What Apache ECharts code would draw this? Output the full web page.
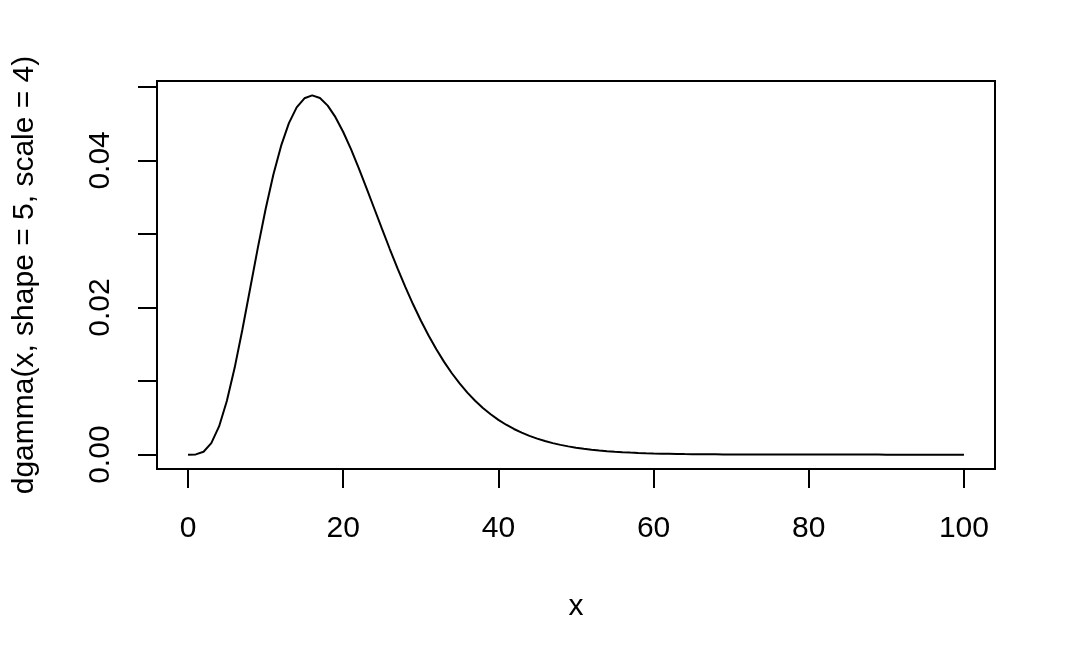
<!DOCTYPE html>
<html>
<head>
<meta charset="utf-8">
<title>dgamma</title>
<script src="https://cdn.jsdelivr.net/npm/echarts@6/dist/echarts.min.js"></script>
<style>
  html, body { margin: 0; padding: 0; background: #fff; }
  #chart { width: 1076px; height: 665px; }
</style>
</head>
<body>
<div id="chart"></div>
<script>
// x 取值 0..100
const xs = []
for (let i = 0; i <= 100; i++) xs.push(i)

// 曲线数值
const ys = [
  0, 0.0000317, 0.000395, 0.001557, 0.003832, 0.007286, 0.011767, 0.016976, 0.022555, 0.028137,
  0.033401, 0.038085, 0.042008, 0.045062, 0.047203, 0.048446, 0.048842, 0.048476, 0.047452, 0.045878,
  0.043866, 0.041526, 0.038955, 0.036242, 0.033463, 0.030684, 0.027955, 0.025320, 0.022806, 0.020438,
  0.018229, 0.016186, 0.014313, 0.012607, 0.011064, 0.009676, 0.008434, 0.007329, 0.006351, 0.005488,
  0.004729, 0.004065, 0.003487, 0.002983, 0.002547, 0.002170, 0.001846, 0.001566, 0.001327, 0.001122,
  0.000948, 0.000799, 0.000672, 0.000565, 0.000474, 0.000398, 0.000333, 0.000278, 0.000232, 0.000194,
  0.000161, 0.000134, 0.000112, 0.000093, 0.000077, 0.000064, 0.000053, 0.000044, 0.000036, 0.000030,
  0.000025, 0.000020, 0.000017, 0.000014, 0.000011, 0.000009, 0.000008, 0.000006, 0.000005, 0.000004,
  0.000003, 0.000003, 0.000002, 0.000002, 0.000002, 0.000001, 0.000001, 0.000001, 0.000001, 0.000001,
  0, 0, 0, 0, 0, 0, 0, 0, 0, 0, 0
]

// 刻度
const xTicks = [0, 20, 40, 60, 80, 100]
const yTicks = [0, 0.01, 0.02, 0.03, 0.04, 0.05]
const yLabels = [0, 0.02, 0.04]

const font = '"Liberation Sans", Arial, Helvetica, sans-serif'

let chart = echarts.init(document.getElementById('chart'))

let options = {
  animation: false,
  backgroundColor: '#fff',
  grid: {
    left: 157,
    top: 81,
    width: 838,
    height: 388,
    show: true,
    borderColor: '#000',
    borderWidth: 2,
    backgroundColor: 'transparent'
  },
  xAxis: {
    type: 'value',
    min: -4,
    max: 104,
    name: 'x',
    nameLocation: 'middle',
    nameGap: 123,
    nameTextStyle: {
      color: '#000',
      fontSize: 30,
      fontFamily: font
    },
    axisLine: { show: false, onZero: false },
    axisTick: {
      show: true,
      inside: false,
      length: 19,
      customValues: xTicks,
      lineStyle: { color: '#000', width: 2 }
    },
    axisLabel: {
      color: '#000',
      fontSize: 30,
      fontFamily: font,
      margin: 45,
      customValues: xTicks
    },
    splitLine: { show: false }
  },
  yAxis: {
    type: 'value',
    min: -0.001954,
    max: 0.050796,
    name: 'dgamma(x, shape = 5, scale = 4)',
    nameLocation: 'middle',
    nameRotate: 90,
    nameGap: 117,
    nameTextStyle: {
      color: '#000',
      fontSize: 30,
      fontFamily: font
    },
    axisLine: { show: false, onZero: false },
    axisTick: {
      show: true,
      inside: false,
      length: 19,
      customValues: yTicks,
      lineStyle: { color: '#000', width: 2 }
    },
    axisLabel: {
      color: '#000',
      fontSize: 30,
      fontFamily: font,
      rotate: 90,
      margin: 41,
      customValues: yLabels,
      formatter: function (value) {
        return value.toFixed(2)
      }
    },
    splitLine: { show: false }
  },
  series: [
    {
      type: 'line',
      showSymbol: false,
      smooth: false,
      lineStyle: { color: '#000', width: 2 },
      data: xs.map((x, i) => [x, ys[i]])
    }
  ]
}

chart.setOption(options)
</script>
</body>
</html>
